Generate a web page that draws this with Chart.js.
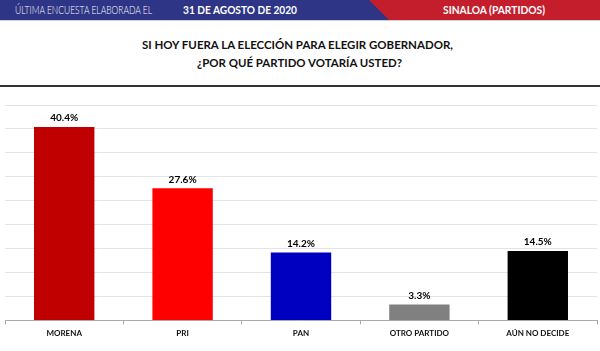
<!DOCTYPE html>
<html><head><meta charset="utf-8">
<script src="https://cdn.jsdelivr.net/npm/chart.js@4/dist/chart.umd.min.js"></script>
<style>
html,body{margin:0;padding:0;background:#fff;width:600px;height:351px;overflow:hidden;font-family:Lato,"Open Sans",sans-serif;}
#hdr{position:absolute;left:0;top:0;width:600px;height:20px;background:#C41E2C;}
#hdrblue{position:absolute;left:0;top:0;width:389px;height:20px;background:#2E3586;clip-path:polygon(0 0,369px 0,389px 20px,0 20px);}
#hline{position:absolute;left:0;top:20px;width:600px;height:1px;background:#d0d0d0;}
.fit{position:absolute;white-space:nowrap;color:#fff;font-size:11px;line-height:14px;top:3px;transform-origin:0 50%;}
#hl1{left:15px;font-weight:300;}
#hl2{left:183px;font-weight:700;}
#hr{left:443px;font-weight:700;}
.t{position:absolute;white-space:nowrap;font-weight:700;font-size:12px;line-height:16px;color:#111;transform-origin:0 50%;}
#t1{left:142px;top:37px;}
#t2{left:197px;top:55px;}
#rule{position:absolute;left:0;top:85px;width:600px;height:2px;background:#333;}
#wrap{position:absolute;left:0;top:90px;width:600px;height:261px;}
</style></head>
<body>
<div id="hdr"></div><div id="hdrblue"></div><div id="hline"></div>
<div class="fit" id="hl1" data-w="137">ÚLTIMA ENCUESTA ELABORADA EL</div>
<div class="fit" id="hl2" data-w="114">31 DE AGOSTO DE 2020</div>
<div class="fit" id="hr" data-w="102">SINALOA (PARTIDOS)</div>
<div class="t" id="t1" data-w="311">SI HOY FUERA LA ELECCIÓN PARA ELEGIR GOBERNADOR,</div>
<div class="t" id="t2" data-w="205">¿POR QUÉ PARTIDO VOTARÍA USTED?</div>
<div id="rule"></div>
<div id="wrap"><canvas id="c" width="600" height="261"></canvas></div>
<script>
document.querySelectorAll('[data-w]').forEach(el => {
  const w = el.getBoundingClientRect().width;
  el.style.transform = 'scaleX(' + (parseFloat(el.dataset.w) / w) + ')';
});

const categories = ["MORENA", "PRI", "PAN", "OTRO PARTIDO", "AÚN NO DECIDE"];
const values = [40.4, 27.6, 14.2, 3.3, 14.5];
const barColors = ["#C00000", "#FF0000", "#0000C0", "#808080", "#000000"];

const labelPlugin = {
  id: 'barLabels',
  afterDatasetsDraw(chart) {
    const ctx = chart.ctx;
    const meta = chart.getDatasetMeta(0);
    ctx.save();
    ctx.font = 'bold 10px Lato, "Open Sans", sans-serif';
    ctx.fillStyle = '#000';
    ctx.textAlign = 'center';
    ctx.textBaseline = 'bottom';
    meta.data.forEach((bar, i) => {
      ctx.fillText(values[i].toFixed(1) + '%', bar.x, bar.y - 4);
    });
    ctx.restore();
  }
};

new Chart(document.getElementById('c'), {
  type: 'bar',
  data: {
    labels: categories,
    datasets: [{ data: values, backgroundColor: barColors, borderWidth: 0, barPercentage: 0.51, categoryPercentage: 1.0 }]
  },
  options: {
    responsive: false,
    animation: false,
    layout: { padding: { left: 5, right: 3, top: 15, bottom: 9 } },
    plugins: { legend: { display: false }, tooltip: { enabled: false } },
    scales: {
      y: {
        min: 0, max: 45,
        ticks: { display: false, stepSize: 5 },
        grid: { color: '#e3e3e3', drawTicks: false, lineWidth: 1 },
        border: { display: false }
      },
      x: {
        grid: { display: true, drawOnChartArea: false, drawTicks: true, tickLength: 4, color: '#aaa', offset: true },
        border: { display: true, color: '#aaa' },
        ticks: { color: '#111', padding: 4, font: { family: 'Lato, "Open Sans", sans-serif', size: 8, weight: 'bold' } }
      }
    }
  },
  plugins: [labelPlugin]
});
</script>
</body></html>
